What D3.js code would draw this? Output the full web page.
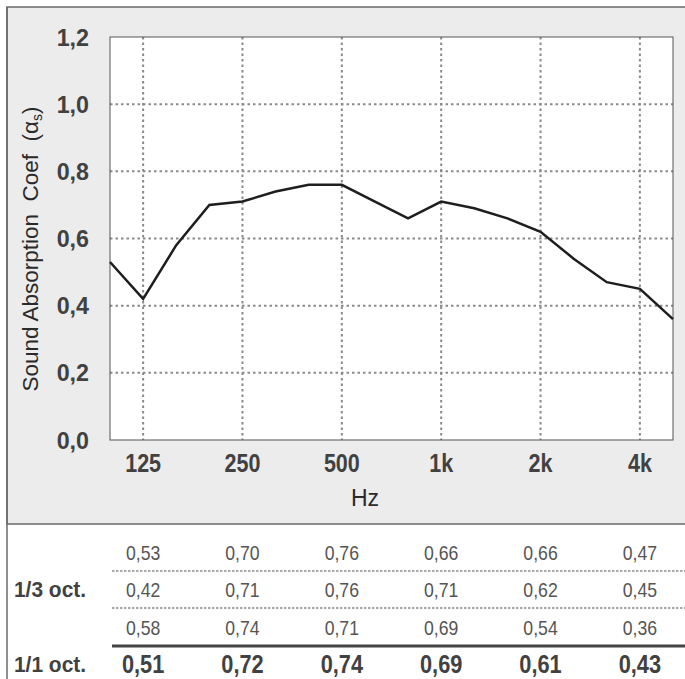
<!DOCTYPE html>
<html>
<head>
<meta charset="utf-8">
<script src="https://cdn.jsdelivr.net/npm/d3@7"></script>
<style>
  body { margin: 0; background: #fff; }
  svg { display: block; }
  text { font-family: "Liberation Sans", Arial, sans-serif; }
</style>
</head>
<body>
<div id="chart"></div>
<script>
// 1/3-Oktav-Bänder und Messwerte
const bands = ["100", "125", "160", "200", "250", "315", "400", "500", "630",
               "800", "1000", "1250", "1600", "2000", "2500", "3150", "4000", "5000"];
const thirdOctave = [0.53, 0.42, 0.58, 0.70, 0.71, 0.74, 0.76, 0.76, 0.71,
                     0.66, 0.71, 0.69, 0.66, 0.62, 0.54, 0.47, 0.45, 0.36];
const octaveLabels = ["125", "250", "500", "1k", "2k", "4k"];
const octaveBands = ["125", "250", "500", "1000", "2000", "4000"];
const fullOctave = [0.51, 0.72, 0.74, 0.69, 0.61, 0.43];
const yTicks = [0, 0.2, 0.4, 0.6, 0.8, 1.0, 1.2];

const fmt = (v, d) => v.toFixed(d).replace(".", ",");

// schmale Schrift nachbilden: Text horizontal stauchen
function condense(sel, k) {
    sel.each(function () {
        const len = this.getComputedTextLength();
        d3.select(this)
            .attr("textLength", len * k)
            .attr("lengthAdjust", "spacingAndGlyphs");
    });
}

const width = 685, height = 679;
const plot = { left: 110, top: 37, right: 673, bottom: 440 };

const svg = d3.select("#chart").append("svg")
    .attr("width", width)
    .attr("height", height);

// Grauer Rahmen oben
svg.append("rect")
    .attr("x", 7).attr("y", 7)
    .attr("width", width + 10).attr("height", 517)
    .attr("fill", "#ececec")
    .attr("stroke", "#6a6a6a")
    .attr("stroke-width", 1.5);

svg.append("line")
    .attr("x1", 7).attr("x2", 7)
    .attr("y1", 7).attr("y2", height)
    .attr("stroke", "#6a6a6a")
    .attr("stroke-width", 1.5);

const x = d3.scalePoint()
    .domain(bands)
    .range([plot.left, plot.right]);

const y = d3.scaleLinear()
    .domain([0, 1.2])
    .range([plot.bottom, plot.top]);

svg.append("rect")
    .attr("x", plot.left).attr("y", plot.top)
    .attr("width", plot.right - plot.left)
    .attr("height", plot.bottom - plot.top)
    .attr("fill", "#fff");

// Gitterlinien
svg.append("g")
    .selectAll("line")
    .data(yTicks.filter(t => t > 0 && t < 1.2))
    .join("line")
    .attr("x1", plot.left).attr("x2", plot.right)
    .attr("y1", d => y(d)).attr("y2", d => y(d))
    .attr("stroke", "#8a8a8a")
    .attr("stroke-width", 2)
    .attr("stroke-dasharray", "2.5,3");

svg.append("g")
    .selectAll("line")
    .data(octaveBands)
    .join("line")
    .attr("x1", d => x(d)).attr("x2", d => x(d))
    .attr("y1", plot.top).attr("y2", plot.bottom)
    .attr("stroke", "#8a8a8a")
    .attr("stroke-width", 2)
    .attr("stroke-dasharray", "2.5,3");

svg.append("rect")
    .attr("x", plot.left).attr("y", plot.top)
    .attr("width", plot.right - plot.left)
    .attr("height", plot.bottom - plot.top)
    .attr("fill", "none")
    .attr("stroke", "#555")
    .attr("stroke-width", 1);

// Kurve
const line = d3.line()
    .x((d, i) => x(bands[i]))
    .y(d => y(d));

svg.append("path")
    .datum(thirdOctave)
    .attr("d", line)
    .attr("fill", "none")
    .attr("stroke", "#1e1e1e")
    .attr("stroke-width", 2.5);

// Achsenbeschriftung
svg.append("g")
    .selectAll("text")
    .data(yTicks)
    .join("text")
    .attr("x", 89)
    .attr("y", d => y(d))
    .attr("dy", "0.36em")
    .attr("text-anchor", "end")
    .style("font-size", "24px")
    .style("font-weight", "bold")
    .attr("fill", "#414141")
    .text(d => fmt(d, 1))
    .call(condense, 0.97);

svg.append("g")
    .selectAll("text")
    .data(octaveBands)
    .join("text")
    .attr("x", d => x(d))
    .attr("y", 463)
    .attr("dy", "0.36em")
    .attr("text-anchor", "middle")
    .style("font-size", "25px")
    .style("font-weight", "bold")
    .attr("fill", "#414141")
    .text((d, i) => octaveLabels[i])
    .call(condense, 0.86);

svg.append("text")
    .attr("x", 365)
    .attr("y", 498)
    .attr("dy", "0.36em")
    .attr("text-anchor", "middle")
    .style("font-size", "23px")
    .attr("fill", "#2a2a2a")
    .text("Hz");

const yLabel = svg.append("text")
    .attr("transform", "translate(30, 249) rotate(-90)")
    .attr("text-anchor", "middle")
    .attr("dy", "0.36em")
    .style("font-size", "22.5px")
    .style("white-space", "pre")
    .attr("fill", "#2a2a2a");
yLabel.append("tspan").text("Sound Absorption  Coef  (α");
yLabel.append("tspan").attr("dy", "4").style("font-size", "14px").text("s");
yLabel.append("tspan").attr("dy", "-4").text(")");

// Tabelle
const rowY = [552, 589.5, 627];
const tableLeft = 112;

[571, 608].forEach(ly => {
    svg.append("line")
        .attr("x1", tableLeft).attr("x2", width)
        .attr("y1", ly).attr("y2", ly)
        .attr("stroke", "#555")
        .attr("stroke-width", 1.2)
        .attr("stroke-dasharray", "2.5,1.5");
});

svg.append("line")
    .attr("x1", tableLeft).attr("x2", width)
    .attr("y1", 646).attr("y2", 646)
    .attr("stroke", "#444")
    .attr("stroke-width", 3);

svg.append("g")
    .selectAll("text")
    .data(thirdOctave)
    .join("text")
    .attr("x", (d, i) => x(octaveBands[Math.floor(i / 3)]))
    .attr("y", (d, i) => rowY[i % 3])
    .attr("dy", "0.36em")
    .attr("text-anchor", "middle")
    .style("font-size", "21px")
    .attr("fill", "#555")
    .text(d => fmt(d, 2))
    .call(condense, 0.84);

svg.append("g")
    .selectAll("text")
    .data(fullOctave)
    .join("text")
    .attr("x", (d, i) => x(octaveBands[i]))
    .attr("y", 664)
    .attr("dy", "0.36em")
    .attr("text-anchor", "middle")
    .style("font-size", "25px")
    .style("font-weight", "bold")
    .attr("fill", "#414141")
    .text(d => fmt(d, 2))
    .call(condense, 0.87);

svg.append("text")
    .attr("x", 14).attr("y", 589.5).attr("dy", "0.36em")
    .style("font-size", "22px").style("font-weight", "bold")
    .attr("fill", "#414141")
    .text("1/3 oct.")
    .call(condense, 0.95);

svg.append("text")
    .attr("x", 14).attr("y", 664).attr("dy", "0.36em")
    .style("font-size", "22px").style("font-weight", "bold")
    .attr("fill", "#414141")
    .text("1/1 oct.")
    .call(condense, 0.95);
</script>
</body>
</html>
